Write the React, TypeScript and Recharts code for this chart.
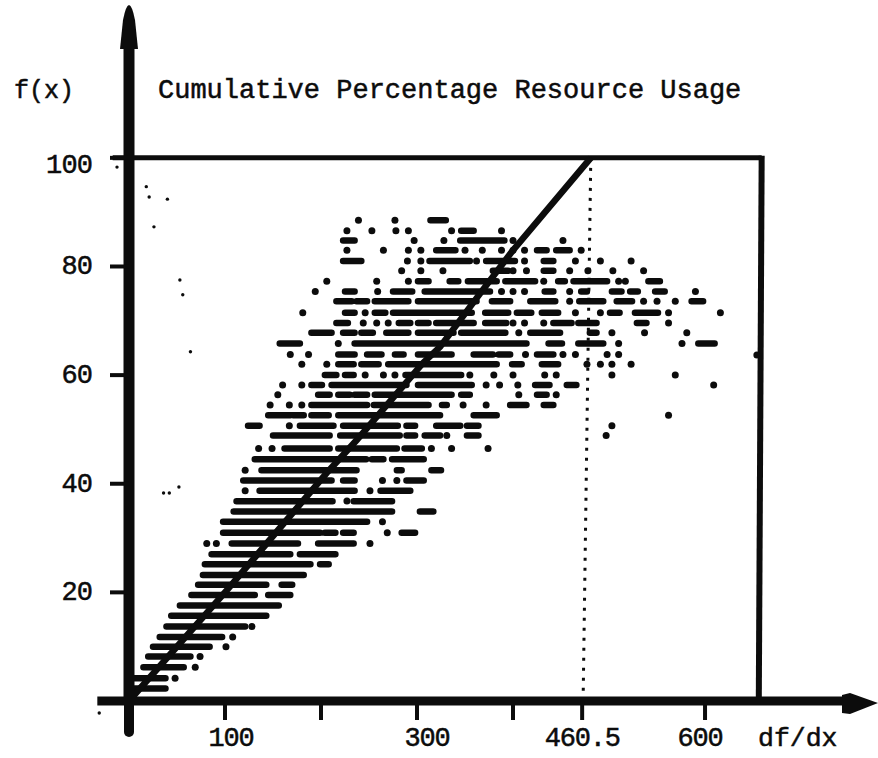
import { ComposedChart, Line, Scatter, XAxis, YAxis, ReferenceLine, ReferenceDot } from 'recharts';

type Mark = number | [number, number];

const INK = '#0c0c0c';
const FONT = '"Liberation Mono", monospace';

const yTicks = [20, 40, 60, 80, 100];
const xTicks = [100, 200, 300, 400, 472, 600];
const xTickLabels: Record<number, string> = { 100: '100', 300: '300', 472: '460.5', 600: '600' };
const xLabelShift: Record<number, number> = { 100: 6, 300: 10, 472: 0, 600: -5 };

// the fitted curve
const curveX = [0, 102, 206, 237, 306, 324, 366, 400, 481];
const curveY = [0, 20.4, 42, 48, 62.2, 65.2, 75.1, 83, 100];

// dotted drop line at the peak
const dropX = [481, 473];
const dropY = [100, 0];

// printed scatter, one line of the printout per level: a number is a lone dot, a pair is a run of digits
const rowLevels = [
  88.5, 86.6, 84.8, 83, 81, 79.2, 77.3, 75.4, 73.6, 71.5, 69.6, 67.8, 65.8, 63.8, 62, 60, 58.2, 56.4, 54.5, 52.6, 50.7,
  48.9, 46.5, 44.5, 42.5, 40.6, 38.7, 36.8, 34.9, 33, 31, 29, 27, 25.2, 23.2, 21.4, 19.5, 17.6, 15.7, 13.7, 11.8, 10,
  8.2, 6.2, 4.2, 2.3,
];
const rowMarks: Mark[][] = [
  [239, 277, [314, 330]],
  [227, 253, 278, 291, 336, [346, 359], 388],
  [[223, 235], 297, 328, [345, 391], 400, 452],
  [227, 265, 291, 304, [320, 340], 350, 368, 388, 400, 412, [425, 435], [445, 459], 471],
  [[223, 242], 290, 304, [313, 355], 362, [372, 402], 412, [432, 442], 465, 491, 523],
  [284, 304, 327, [379, 395], 400, 414, [432, 442], 459, 478, 504, 536],
  [206, 258, 291, [301, 312], [334, 343], [353, 383], [392, 423], 432, [447, 454], [463, 498], 510, 517, [541, 553]],
  [194, [225, 235], 259, [275, 295], [308, 376], 388, 400, 412, [433, 442], 459, [471, 477], [503, 513], [522, 530], [548, 558], 590],
  [[216, 232], [237, 248], [256, 291], [301, 362], [378, 397], [418, 444], 459, [469, 494], [508, 524], 536, 550, 569, [586, 598]],
  [181, [225, 235], 246, [256, 267], [275, 357], [371, 395], [404, 419], [430, 447], 465, 491, [501, 511], [527, 551], 562, 616],
  [[216, 228], 244, 258, 270, [281, 293], [301, 312], [320, 359], [371, 393], 400, 412, 432, [442, 461], [468, 487], [529, 539], 562],
  [[190, 211], [223, 235], [242, 254], [268, 291], [301, 338], [346, 392], 406, [418, 449], [480, 487], 503, 537, 581],
  [[157, 178], 218, [235, 414], [437, 451], [468, 494], 510, 576, [593, 610]],
  [168, 187, [218, 235], [248, 263], [277, 286], [301, 336], [359, 379], [385, 397], 413, [425, 442], 452, 465, 498, 510],
  [180, 206, [218, 234], [242, 260], [270, 383], [399, 409], [430, 447], 477, 491, 503, 523],
  [[204, 216], [225, 234], 246, 265, 277, [288, 346], 355, 380, 400, 433, 445, 503, 569],
  [160, 180, [190, 201], [211, 289], [301, 357], 372, 386, 405, [423, 438], [456, 466], 609],
  [155, [197, 209], [218, 230], [235, 248], [256, 336], [346, 355], 406, [425, 435], 445],
  [147, 167, 180, [190, 248], [255, 312], [326, 331], 348, 372, [397, 414], [432, 442]],
  [[145, 168], [171, 182], [190, 208], [218, 324], [359, 383], 562],
  [[124, 136], 167, [178, 213], [223, 280], [289, 298], [320, 345], [352, 364], 503],
  [[150, 209], [220, 282], [289, 298], [308, 324], 331, [352, 364], 497],
  [135, 149, [162, 209], [218, 279], [287, 305], 315, 336, 374],
  [[131, 247], [253, 265], [274, 307]],
  [121, [138, 237], [279, 284], [315, 325]],
  [[119, 211], [223, 235], 264, 279, [289, 307]],
  [121, [136, 235], 251, [262, 293]],
  [[112, 212], 227, [234, 274]],
  [[109, 274], [303, 317]],
  [[98, 248], 264],
  [[98, 199], [204, 215], [223, 234], 269, [284, 298]],
  [81, 91, [107, 176], [197, 234], 251],
  [[86, 168], [178, 215]],
  [[79, 189], [199, 208]],
  [[77, 182]],
  [[72, 143], [159, 170]],
  [[65, 131], [145, 168]],
  [[53, 156]],
  [[44, 143]],
  [[39, 121], 128],
  [[32, 97], 108],
  [[25, 84], 101],
  [[20, 64], 74],
  [[15, 57], 69],
  [[5, 38], 48],
  [[5, 38]],
];

// stray specks on the scan
const speckX = [18, 21, 40, 26, 53, 56, 64, 52, 36, 42];
const speckY = [94.7, 92.8, 92.4, 87.3, 77.5, 74.8, 64.3, 39.4, 38.3, 38.3];

const curveData = curveX.map((x, i) => ({ x, y: curveY[i] }));
const dropData = dropX.map((x, i) => ({ x, y: dropY[i] }));
const speckData = speckX.map((x, i) => ({ x, y: speckY[i] }));

const runData: { x: number; y: number | null }[] = [];
const dotData: { x: number; y: number }[] = [];
rowMarks.forEach((marks, i) => {
  const y = rowLevels[i];
  marks.forEach((m) => {
    if (Array.isArray(m)) {
      runData.push({ x: m[0], y }, { x: m[1], y }, { x: m[1], y: null });
    } else {
      dotData.push({ x: m, y });
    }
  });
});

const textStyle = { fontFamily: FONT, fill: INK, stroke: INK, strokeWidth: 0.5 };

const XTick = ({ x, y, payload }: any) => {
  const label = xTickLabels[payload.value];
  if (!label) return null;
  return (
    <text x={x + xLabelShift[payload.value]} y={y + 24} textAnchor="middle" fontSize={27} letterSpacing={-1.2} {...textStyle}>
      {label}
    </text>
  );
};

const YTick = ({ x, y, payload }: any) => (
  <text x={x} y={y + (payload.value === 100 ? 15 : 8)} textAnchor="end" fontSize={27} letterSpacing={-0.9} {...textStyle}>
    {payload.value}
  </text>
);

const YArrow = ({ cx, cy }: any) => (
  <path d={`M${cx - 9},${cy + 9} L${cx - 6},${cy - 20} Q${cx},${cy - 50} ${cx + 6},${cy - 20} L${cx + 9},${cy + 9} Z`} fill={INK} />
);

const XArrow = ({ cx, cy }: any) => (
  <path d={`M${cx - 8},${cy - 6} L${cx},${cy - 8} L${cx + 28},${cy + 2} L${cx},${cy + 13} L${cx - 8},${cy + 12} Z`} fill={INK} />
);

const Dot = ({ cx, cy }: any) => <circle cx={cx} cy={cy} r={3.5} fill={INK} />;
const Speck = ({ cx, cy }: any) => <circle cx={cx} cy={cy} r={1.7} fill={INK} />;

export default function App() {
  return (
    <div style={{ position: 'absolute', left: 0, top: 0, width: 878, height: 758, background: '#fff' }}>
      <ComposedChart width={878} height={758} margin={{ top: 40, right: 28, bottom: 7, left: 9 }}>
        <XAxis
          type="number"
          dataKey="x"
          domain={[0, 751]}
          allowDataOverflow
          ticks={xTicks}
          interval={0}
          height={50}
          tick={<XTick />}
          tickSize={19}
          tickLine={{ stroke: INK, strokeWidth: 4 }}
          axisLine={{ stroke: INK, strokeWidth: 9 }}
        />
        <YAxis
          type="number"
          dataKey="y"
          domain={[0, 121.7]}
          allowDataOverflow
          ticks={yTicks}
          interval={0}
          width={120}
          tickSize={19}
          tickMargin={18}
          tick={<YTick />}
          tickLine={{ stroke: INK, strokeWidth: 4 }}
          axisLine={{ stroke: INK, strokeWidth: 11 }}
        />

        {/* axis stubs past the origin and the frame */}
        <ReferenceLine segment={[{ x: -33, y: 0 }, { x: 0, y: 0 }]} stroke={INK} strokeWidth={9} ifOverflow="visible" />
        <ReferenceLine segment={[{ x: 0, y: -5.7 }, { x: 0, y: 0 }]} stroke={INK} strokeWidth={10} strokeLinecap="round" ifOverflow="visible" />
        <ReferenceLine segment={[{ x: -17, y: 100 }, { x: 659, y: 100 }]} stroke={INK} strokeWidth={5} ifOverflow="visible" />
        <ReferenceLine segment={[{ x: 659, y: 100.4 }, { x: 656, y: 0 }]} stroke={INK} strokeWidth={6} ifOverflow="visible" />
        <ReferenceDot x={0} y={121.7} ifOverflow="visible" shape={<YArrow />} />
        <ReferenceDot x={751} y={0} ifOverflow="visible" shape={<XArrow />} />
        <ReferenceDot x={-12.5} y={98.3} ifOverflow="visible" shape={<Speck />} />
        <ReferenceDot x={-31} y={-2.2} ifOverflow="visible" shape={<Speck />} />
        <ReferenceDot x={654} y={63.7} ifOverflow="visible" shape={<Dot />} />

        <Line data={runData} dataKey="y" stroke={INK} strokeWidth={6.5} strokeLinecap="round" dot={false} activeDot={false} connectNulls={false} isAnimationActive={false} legendType="none" />
        <Scatter data={dotData} dataKey="y" shape={<Dot />} isAnimationActive={false} />
        <Scatter data={speckData} dataKey="y" shape={<Speck />} isAnimationActive={false} />
        <Line data={dropData} dataKey="y" stroke={INK} strokeWidth={3} strokeDasharray="3 7" dot={false} activeDot={false} isAnimationActive={false} />
        <Line data={curveData} dataKey="y" stroke={INK} strokeWidth={6.5} dot={false} activeDot={false} isAnimationActive={false} />

        <text x={14} y={98} fontSize={25} {...textStyle}>f(x)</text>
        <text x={158} y={98} fontSize={27} {...textStyle}>Cumulative Percentage Resource Usage</text>
        <text x={758} y={746} fontSize={26.5} {...textStyle}>df/dx</text>
      </ComposedChart>
    </div>
  );
}
